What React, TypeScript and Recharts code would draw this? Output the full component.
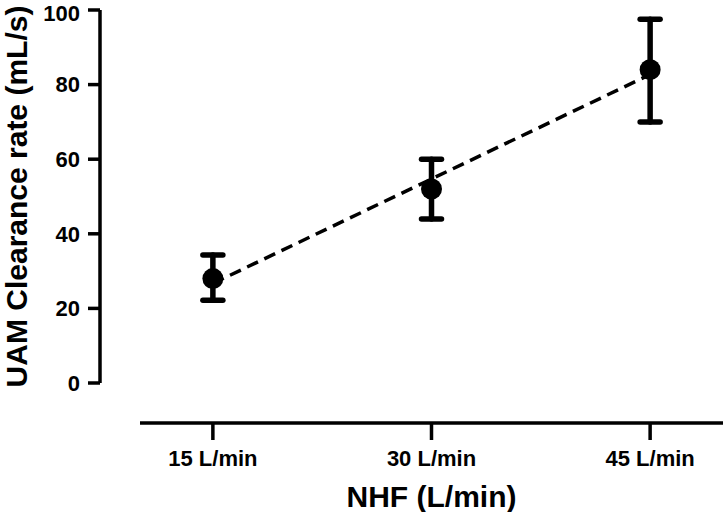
import React from 'react';
import { ScatterChart, Scatter, XAxis, YAxis, ErrorBar } from 'recharts';

const flows = [15, 30, 45];
const flowLabels = ['15 L/min', '30 L/min', '45 L/min'];
const meanRate = [28, 52, 84];
const lowerRate = [22.2, 44, 70];
const upperRate = [34.3, 60, 97.5];
const yTicks = [0, 20, 40, 60, 80, 100];
// dashed fit line, read at its two ends
const trendFlows = [15, 45];
const trendRate = [26.7, 82.7];

const data = flows.map((f, i) => ({
  flow: f,
  rate: meanRate[i],
  err: [meanRate[i] - lowerRate[i], upperRate[i] - meanRate[i]],
}));
const trend = trendFlows.map((f, i) => ({ flow: f, rate: trendRate[i] }));

const font = '"Liberation Sans", Arial, sans-serif';
const tickStyle = { fill: '#000', fontSize: 22, fontWeight: 700, fontFamily: font };
const axisStroke = { stroke: '#000', strokeWidth: 3.5 };

const Dot = (props: any) => <circle cx={props.cx} cy={props.cy} r={10.5} fill="#000" />;
const NoDot = () => <g />;

export default function App() {
  return (
    <div style={{ position: 'absolute', left: 0, top: 0 }}>
      <ScatterChart width={725} height={512} margin={{ top: 10, right: 2, bottom: 0, left: 0 }}>
        {/* spacer axes: keep the visible axes detached from the plot */}
        <XAxis xAxisId="main" type="number" dataKey="flow" domain={[10, 50]} height={40} axisLine={false} tickLine={false} tick={false} />
        <XAxis
          xAxisId="shown"
          type="number"
          dataKey="flow"
          domain={[10, 50]}
          ticks={flows}
          tickFormatter={(v: number) => flowLabels[flows.indexOf(v)] ?? ''}
          height={89}
          axisLine={axisStroke}
          tickLine={axisStroke}
          tickSize={17}
          tickMargin={10}
          tick={tickStyle}
          label={{ value: 'NHF (L/min)', position: 'insideBottom', offset: 5, fill: '#000', fontSize: 30, fontWeight: 700, fontFamily: font }}
        />
        <YAxis yAxisId="main" type="number" dataKey="rate" domain={[0, 100]} width={40} axisLine={false} tickLine={false} tick={false} />
        <YAxis
          yAxisId="shown"
          type="number"
          dataKey="rate"
          domain={[0, 100]}
          ticks={yTicks}
          width={100}
          axisLine={axisStroke}
          tickLine={axisStroke}
          tickSize={12}
          tickMargin={8}
          tick={tickStyle}
          label={{ value: 'UAM Clearance rate (mL/s)', angle: -90, position: 'insideLeft', offset: 16, textAnchor: 'middle', fill: '#000', fontSize: 30, fontWeight: 700, fontFamily: font }}
        />
        {/* invisible series so the displayed axes get a scale */}
        <Scatter xAxisId="shown" yAxisId="shown" data={data} dataKey="rate" shape={NoDot} isAnimationActive={false} />
        <Scatter
          xAxisId="main"
          yAxisId="main"
          data={trend}
          dataKey="rate"
          shape={NoDot}
          line={{ stroke: '#000', strokeWidth: 3.5, strokeDasharray: '12 7' }}
          isAnimationActive={false}
        />
        <Scatter xAxisId="main" yAxisId="main" data={data} dataKey="rate" fill="#000" shape={Dot} isAnimationActive={false}>
          <ErrorBar dataKey="err" direction="y" width={10} stroke="#000" strokeWidth={5.5} strokeLinecap="round" isAnimationActive={false} />
        </Scatter>
      </ScatterChart>
    </div>
  );
}
